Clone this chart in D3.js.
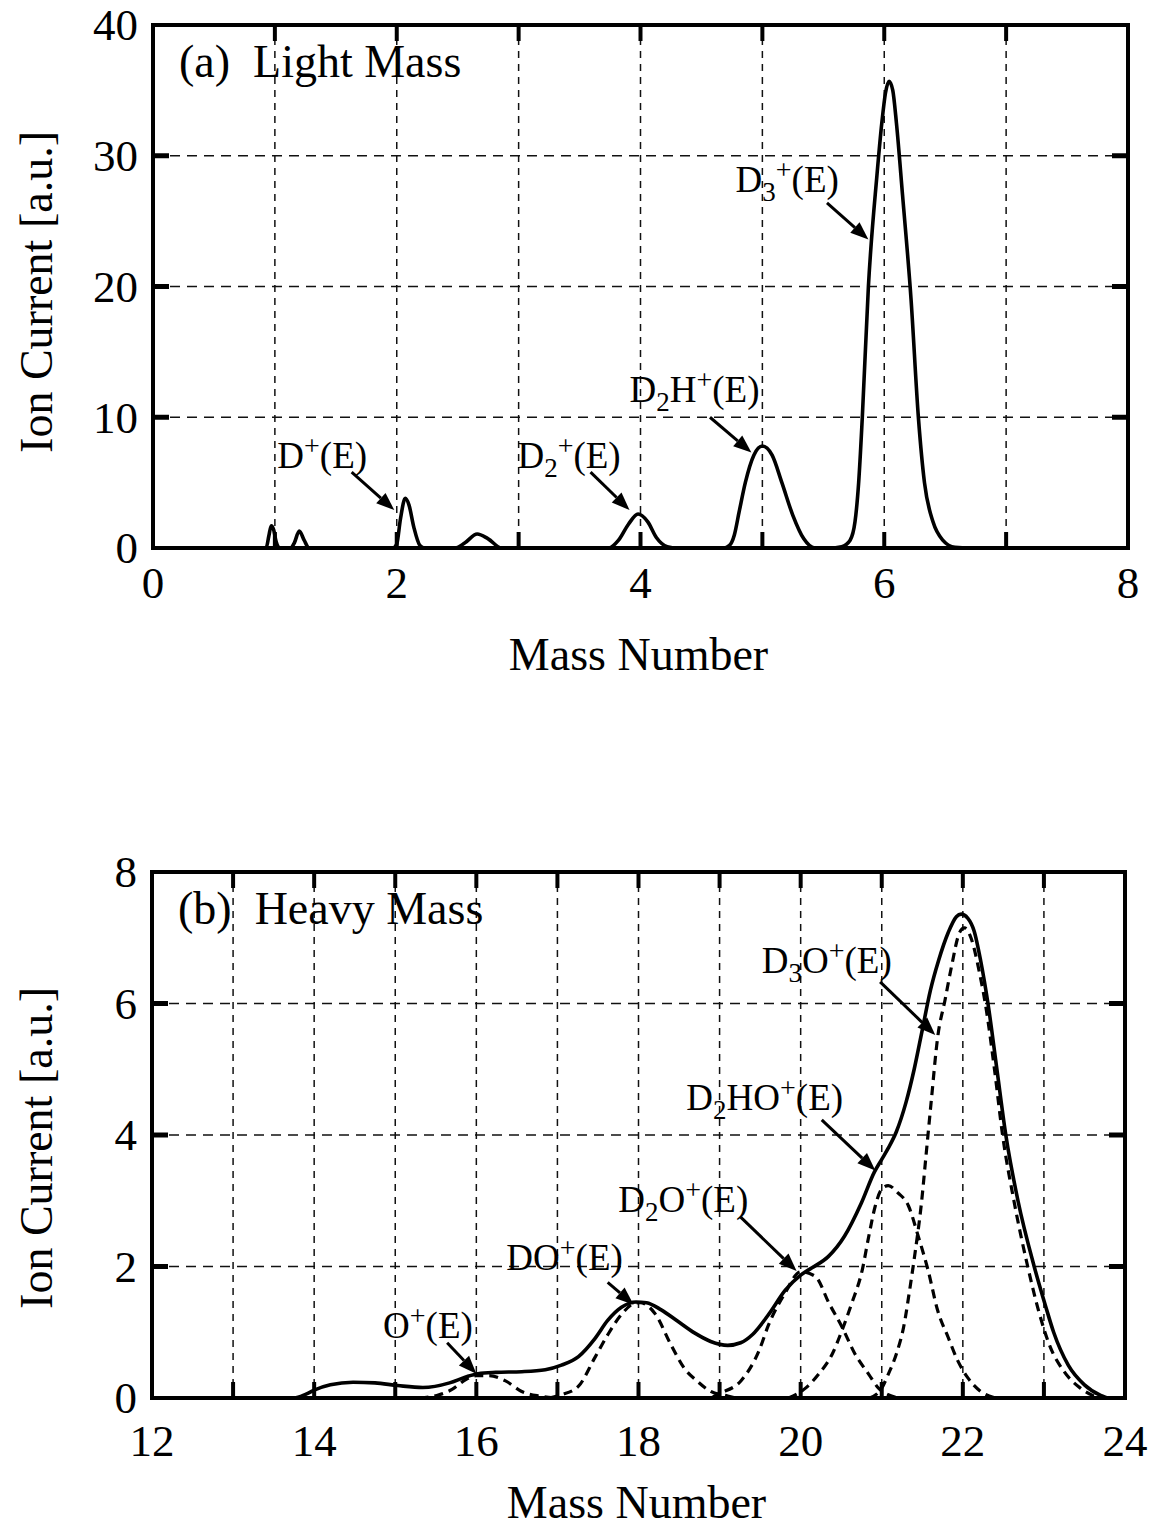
<!DOCTYPE html>
<html><head><meta charset="utf-8">
<script src="https://cdn.jsdelivr.net/npm/d3@7"></script>
<style>body{margin:0;background:#fff}svg{display:block}</style>
</head><body>
<script>
// ---------- DATA ----------
const lightXTicks = [0, 2, 4, 6, 8];
const lightYTicks = [0, 10, 20, 30, 40];
const lightGridX = [1, 2, 3, 4, 5, 6, 7];
const lightGridY = [10, 20, 30];
// Panel (a) measured spectrum [mass, ion current]
const lightSpectrum = [
  [0,0],[0.9,0],[0.93,0.05],[0.95,0.9],[0.97,1.7],[0.99,1.4],[1.01,0.5],[1.04,0],
  [1.13,0],[1.16,0.4],[1.2,1.3],[1.24,0.6],[1.28,0],
  [1.97,0],[2.0,0.3],[2.03,2.2],[2.07,3.8],[2.1,3.3],[2.14,1.6],[2.19,0.2],[2.23,0],
  [2.48,0],[2.56,0.4],[2.66,1.07],[2.75,0.7],[2.86,0],
  [3.74,0],[3.82,0.6],[3.9,1.8],[3.98,2.6],[4.06,2.0],[4.13,0.8],[4.22,0.1],[4.3,0],
  [4.68,0],[4.73,0.2],[4.77,1.0],[4.81,2.8],[4.86,5.0],[4.93,7.1],[5.0,7.8],[5.08,7.1],[5.16,5.0],[5.25,2.5],[5.34,0.7],[5.43,0],
  [5.55,0],[5.65,0.1],[5.72,0.6],[5.76,2],[5.79,5],[5.82,10],[5.87,20],[5.94,28.5],[5.98,32.5],[6.01,34.8],[6.04,35.7],
  [6.07,35.0],[6.1,32.5],[6.15,27],[6.22,19],[6.28,10],[6.33,5],[6.40,2],[6.48,0.6],[6.58,0.05],[6.7,0],[8,0]
];

const heavyXTicks = [12, 14, 16, 18, 20, 22, 24];
const heavyYTicks = [0, 2, 4, 6, 8];
const heavyGridX = [13, 14, 15, 16, 17, 18, 19, 20, 21, 22, 23];
const heavyGridY = [2, 4, 6];
// Panel (b) measured spectrum
const heavyTotal = [
  [12,0],[13.75,0],[13.9,0.06],[14.0,0.12],[14.2,0.2],[14.48,0.24],[14.75,0.23],[15.03,0.19],[15.34,0.16],
  [15.67,0.23],[15.87,0.32],[16.02,0.37],[16.24,0.39],[16.56,0.4],[16.85,0.43],[17.05,0.5],[17.26,0.63],
  [17.46,0.9],[17.62,1.18],[17.79,1.38],[17.97,1.46],[18.1,1.45],[18.28,1.34],[18.48,1.17],[18.69,0.99],
  [18.89,0.86],[19.1,0.8],[19.26,0.84],[19.41,0.97],[19.61,1.28],[19.81,1.64],[20.0,1.87],[20.14,1.98],
  [20.34,2.15],[20.54,2.46],[20.75,2.97],[20.91,3.44],[21.0,3.63],[21.08,3.8],[21.18,4.05],[21.3,4.5],
  [21.4,5.0],[21.5,5.6],[21.6,6.2],[21.7,6.65],[21.82,7.08],[21.92,7.32],[21.98,7.36],[22.06,7.3],
  [22.14,7.1],[22.22,6.65],[22.31,6.0],[22.42,5.0],[22.53,4.0],[22.68,3.0],[22.88,2.0],[23.02,1.4],
  [23.12,1.0],[23.3,0.5],[23.5,0.2],[23.7,0.04],[23.8,0],[24,0]
];
// Fitted components (dashed)
const heavyOp = [[15.3,0],[15.54,0.05],[15.7,0.13],[15.87,0.28],[16.0,0.34],[16.15,0.34],[16.36,0.26],[16.56,0.1],[16.77,0.03],[17.0,0]];
const heavyDOp = [[16.9,0],[17.05,0.05],[17.26,0.18],[17.46,0.61],[17.62,0.96],[17.79,1.27],[17.95,1.44],[18.02,1.45],[18.2,1.29],[18.4,0.81],[18.56,0.46],[18.73,0.25],[18.89,0.1],[19.1,0.03],[19.2,0]];
const heavyD2Op = [[18.9,0],[18.97,0.05],[19.27,0.27],[19.49,0.73],[19.6,1.1],[19.8,1.58],[20.0,1.92],[20.18,1.85],[20.35,1.44],[20.51,1.08],[20.67,0.67],[20.84,0.36],[20.96,0.15],[21.08,0.05],[21.2,0]];
const heavyD2HOp = [[19.85,0],[20.06,0.15],[20.22,0.36],[20.39,0.67],[20.51,1.03],[20.63,1.44],[20.76,1.95],[20.84,2.46],[20.92,2.92],[21.0,3.18],[21.08,3.23],[21.2,3.12],[21.33,2.92],[21.45,2.46],[21.57,1.95],[21.69,1.33],[21.82,0.92],[21.94,0.56],[22.06,0.31],[22.22,0.1],[22.4,0]];
const heavyD3Op = [[20.85,0],[21.0,0.15],[21.08,0.36],[21.18,0.67],[21.27,1.08],[21.35,1.69],[21.41,2.2],[21.49,2.97],[21.55,3.74],[21.61,4.51],[21.69,5.49],[21.78,6.05],[21.86,6.56],[21.96,7.08],[22.02,7.15],[22.1,7.0],[22.2,6.5],[22.29,5.9],[22.39,5.0],[22.49,4.0],[22.63,3.0],[22.8,2.0],[22.94,1.3],[23.07,0.8],[23.25,0.4],[23.45,0.15],[23.6,0.04],[23.7,0]];

// Annotations: label parts, text anchor [x,y], arrow from, arrow to (data units)
const lightNotes = [
  {parts:[["D",""],["+","sup"],["(E)",""]], at:[1.02,6.1], from:[1.63,5.8], to:[1.98,2.9]},
  {parts:[["D",""],["2","sub"],["+","sup"],["(E)",""]], at:[2.99,6.1], from:[3.59,5.8], to:[3.91,2.9]},
  {parts:[["D",""],["2","sub"],["H",""],["+","sup"],["(E)",""]], at:[3.91,11.2], from:[4.57,10.0], to:[4.91,7.3]},
  {parts:[["D",""],["3","sub"],["+","sup"],["(E)",""]], at:[4.78,27.2], from:[5.53,26.4], to:[5.87,23.6]}
];
const heavyNotes = [
  {parts:[["O",""],["+","sup"],["(E)",""]], at:[14.85,0.91], from:[15.64,0.84], to:[16.0,0.37]},
  {parts:[["DO",""],["+","sup"],["(E)",""]], at:[16.37,1.95], from:[17.62,1.76], to:[17.94,1.42]},
  {parts:[["D",""],["2","sub"],["O",""],["+","sup"],["(E)",""]], at:[17.75,2.83], from:[19.26,2.75], to:[19.95,1.93]},
  {parts:[["D",""],["2","sub"],["HO",""],["+","sup"],["(E)",""]], at:[18.59,4.38], from:[20.26,4.23], to:[20.92,3.46]},
  {parts:[["D",""],["3","sub"],["O",""],["+","sup"],["(E)",""]], at:[19.52,6.46], from:[20.98,6.33], to:[21.66,5.52]}
];

// ---------- DRAW ----------
const FONT = "'Liberation Serif','Times New Roman',serif";
const svg = d3.select("body").append("svg").attr("width",1158).attr("height",1530)
  .style("font-family", FONT);

function drawPanel(cfg){
  const x = d3.scaleLinear().domain(cfg.xd).range([cfg.left, cfg.right]);
  const y = d3.scaleLinear().domain(cfg.yd).range([cfg.bottom, cfg.top]);
  const g = svg.append("g");

  // grid
  g.selectAll(".gx").data(cfg.gridX).enter().append("line")
    .attr("x1",d=>x(d)).attr("x2",d=>x(d)).attr("y1",cfg.top).attr("y2",cfg.bottom)
    .attr("stroke","#111").attr("stroke-width",1.5).attr("stroke-dasharray","7,6");
  g.selectAll(".gy").data(cfg.gridY).enter().append("line")
    .attr("y1",d=>y(d)).attr("y2",d=>y(d)).attr("x1",cfg.left).attr("x2",cfg.right)
    .attr("stroke","#111").attr("stroke-width",1.6).attr("stroke-dasharray","10,7");

  // dashed components
  const line = d3.line().x(d=>x(d[0])).y(d=>y(d[1])).curve(d3.curveMonotoneX);
  (cfg.components||[]).forEach(c=>{
    g.append("path").attr("d",line(c)).attr("fill","none").attr("stroke","#000")
      .attr("stroke-width",3.2).attr("stroke-dasharray","9,6");
  });
  // main curve
  g.append("path").attr("d",line(cfg.main)).attr("fill","none").attr("stroke","#000")
    .attr("stroke-width",3.6).attr("stroke-linejoin","round");

  // ticks (inward) on all sides
  const tl = 16;
  const tx = cfg.tickX;
  g.selectAll(".tb").data(tx).enter().append("line")
    .attr("x1",d=>x(d)).attr("x2",d=>x(d)).attr("y1",cfg.bottom).attr("y2",cfg.bottom-tl)
    .attr("stroke","#000").attr("stroke-width",4);
  g.selectAll(".tt").data(tx).enter().append("line")
    .attr("x1",d=>x(d)).attr("x2",d=>x(d)).attr("y1",cfg.top).attr("y2",cfg.top+tl)
    .attr("stroke","#000").attr("stroke-width",4);
  g.selectAll(".tl").data(cfg.gridY).enter().append("line")
    .attr("y1",d=>y(d)).attr("y2",d=>y(d)).attr("x1",cfg.left).attr("x2",cfg.left+tl)
    .attr("stroke","#000").attr("stroke-width",5);
  g.selectAll(".tr").data(cfg.gridY).enter().append("line")
    .attr("y1",d=>y(d)).attr("y2",d=>y(d)).attr("x1",cfg.right).attr("x2",cfg.right-tl)
    .attr("stroke","#000").attr("stroke-width",5);

  // frame
  g.append("rect").attr("x",cfg.left).attr("y",cfg.top)
    .attr("width",cfg.right-cfg.left).attr("height",cfg.bottom-cfg.top)
    .attr("fill","none").attr("stroke","#000").attr("stroke-width",4);

  // tick labels
  g.selectAll(".xl").data(cfg.xLabels).enter().append("text")
    .attr("x",d=>x(d)).attr("y",cfg.bottom+cfg.xLabelOff).attr("text-anchor","middle")
    .attr("font-size",45).text(d=>d);
  g.selectAll(".yl").data(cfg.yLabels).enter().append("text")
    .attr("x",cfg.left-15).attr("y",d=>y(d)).attr("dy","0.34em").attr("text-anchor","end")
    .attr("font-size",45).text(d=>d);

  // axis titles
  g.append("text").attr("x",(cfg.left+cfg.right)/2-2).attr("y",cfg.xTitleY)
    .attr("text-anchor","middle").attr("font-size",46).text("Mass Number");
  g.append("text").attr("transform",`translate(52,${cfg.yTitleC}) rotate(-90)`)
    .attr("text-anchor","middle").attr("font-size",46).text("Ion Current [a.u.]");

  // panel title
  g.append("text").attr("x",cfg.left+26).attr("y",cfg.top+52).attr("font-size",46)
    .attr("xml:space","preserve").text(cfg.title);

  // annotations
  cfg.notes.forEach(n=>{
    const t = g.append("text").attr("x",x(n.at[0])).attr("y",y(n.at[1])).attr("font-size",37);
    let shift = 0;
    n.parts.forEach(p=>{
      const sp = t.append("tspan").text(p[0]);
      let target = 0;
      if(p[1]==="sub"){ target = 9; sp.attr("font-size",27); }
      else if(p[1]==="sup"){ target = -13; sp.attr("font-size",28); }
      sp.attr("dy", target - shift);
      shift = target;
    });
    const x1=x(n.from[0]), y1=y(n.from[1]), x2=x(n.to[0]), y2=y(n.to[1]);
    const ang = Math.atan2(y2-y1, x2-x1);
    const hl = 18, hw = 7;
    const bx = x2 - hl*Math.cos(ang), by = y2 - hl*Math.sin(ang);
    g.append("line").attr("x1",x1).attr("y1",y1).attr("x2",bx).attr("y2",by)
      .attr("stroke","#000").attr("stroke-width",3);
    const pts = [[x2,y2],[bx+hw*Math.sin(ang), by-hw*Math.cos(ang)],[bx-hw*Math.sin(ang), by+hw*Math.cos(ang)]];
    g.append("polygon").attr("points",pts.map(p=>p.join(",")).join(" ")).attr("fill","#000");
  });
}

drawPanel({
  xd:[0,8], yd:[0,40], left:153, right:1128, top:25, bottom:548,
  gridX:lightGridX, gridY:lightGridY, tickX:lightGridX,
  xLabels:lightXTicks, yLabels:lightYTicks, xLabelOff:50, xTitleY:670, yTitleC:292,
  main:lightSpectrum, components:[], title:"(a)  Light Mass", notes:lightNotes
});
drawPanel({
  xd:[12,24], yd:[0,8], left:152, right:1125, top:872, bottom:1398,
  gridX:heavyGridX, gridY:heavyGridY, tickX:heavyGridX,
  xLabels:heavyXTicks, yLabels:heavyYTicks, xLabelOff:58, xTitleY:1518, yTitleC:1148,
  main:heavyTotal, components:[heavyOp, heavyDOp, heavyD2Op, heavyD2HOp, heavyD3Op],
  title:"(b)  Heavy Mass", notes:heavyNotes
});
</script>
</body></html>
